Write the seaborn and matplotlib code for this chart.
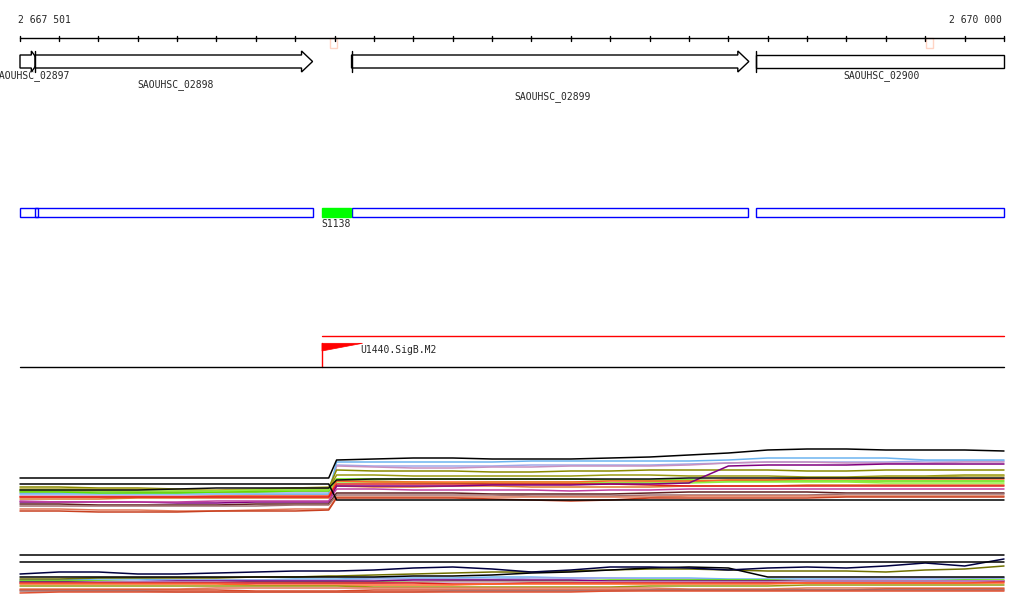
import pandas as pd
import matplotlib
matplotlib.use('Agg')
import matplotlib.pyplot as plt
import matplotlib.patches as mpatches
import seaborn as sns

# --- 1. DONNÉES ---
# fenêtre génomique (bp)
view_start = 2667501
view_end = 2670000
x_lim = (2667450.2, 2670050.8)
tick_pos = [2667501] + list(range(2667600, 2670001, 100))
marker_pos = [2668298, 2669810]

# gènes
gene_names = ['SAOUHSC_02897', 'SAOUHSC_02898', 'SAOUHSC_02899', 'SAOUHSC_02900']
gene_start = [2667501, 2667539, 2668343, 2669370]
gene_end = [2667549, 2668244, 2669352, 2670000]
gene_arrow = [True, True, True, False]
gene_label_row = [76, 85, 97, 76]

# segments (piste bleue)
seg_start = [2667501, 2667539, 2668343, 2669370]
seg_end = [2667547, 2668244, 2669350, 2670000]
hit_name = 'S1138'
hit_start, hit_end = 2668268, 2668342

# promoteur
prom_name = 'U1440.SigB.M2'
prom_start = 2668268

# profils d'expression (log2), positions communes
expr_pos = [2667501, 2667600, 2667700, 2667800, 2667900, 2668000, 2668100, 2668200,
            2668285, 2668305, 2668400, 2668500, 2668600, 2668700, 2668800, 2668900,
            2669000, 2669100, 2669200, 2669300, 2669400, 2669500, 2669600, 2669700,
            2669800, 2669900, 2670000]

panel1 = {
    'lavender': [7.7, 7.7, 7.8, 7.8, 7.8, 7.8, 7.8, 7.8, 7.8, 10.5, 10.4, 10.4, 10.4, 10.4, 10.5, 10.5, 10.5, 10.5, 10.6, 10.7, 10.8, 10.8, 10.8, 10.8, 10.9, 10.9, 10.9],
    'pink': [7.4, 7.4, 7.4, 7.4, 7.4, 7.4, 7.5, 7.5, 7.5, 10.4, 10.3, 10.2, 10.2, 10.3, 10.3, 10.4, 10.4, 10.4, 10.5, 10.7, 10.8, 10.8, 10.7, 10.7, 10.7, 10.8, 10.8],
    'lightblue': [7.6, 7.6, 7.6, 7.6, 7.6, 7.6, 7.6, 7.6, 7.6, 10.8, 10.8, 10.8, 10.8, 10.8, 10.9, 10.9, 10.9, 10.9, 10.9, 11.0, 11.2, 11.2, 11.2, 11.2, 11.0, 11.0, 11.0],
    'olive1': [8.3, 8.3, 8.2, 8.2, 8.1, 7.9, 8.0, 8.2, 8.2, 10.0, 9.9, 9.9, 9.9, 9.8, 9.8, 9.9, 9.9, 10.0, 10.0, 10.0, 10.0, 9.9, 9.9, 10.0, 10.0, 10.0, 10.0],
    'olive2': [7.9, 7.9, 7.9, 7.8, 7.8, 7.8, 7.9, 8.0, 8.0, 9.5, 9.5, 9.4, 9.4, 9.4, 9.4, 9.4, 9.5, 9.5, 9.4, 9.4, 9.4, 9.3, 9.3, 9.4, 9.4, 9.5, 9.5],
    'khaki': [8.1, 8.1, 8.1, 8.1, 8.0, 8.0, 8.1, 8.2, 8.3, 8.9, 8.9, 8.8, 8.7, 8.6, 8.6, 8.6, 8.7, 8.8, 8.8, 9.0, 9.0, 9.2, 9.2, 9.3, 9.3, 9.4, 9.4],
    'green': [7.8, 7.8, 7.7, 7.7, 7.7, 7.8, 7.8, 7.9, 7.9, 9.1, 9.1, 9.1, 9.1, 9.1, 9.1, 9.1, 9.0, 9.0, 9.0, 8.9, 8.9, 8.9, 8.9, 8.9, 8.9, 8.9, 8.9],
    'green2': [8.0, 8.0, 7.9, 7.9, 7.9, 7.9, 8.0, 8.0, 8.0, 8.8, 8.8, 8.7, 8.7, 8.8, 8.8, 8.8, 8.7, 8.7, 8.7, 8.8, 8.8, 8.8, 8.8, 8.7, 8.7, 8.7, 8.7],
    'orange': [7.3, 7.3, 7.3, 7.3, 7.3, 7.4, 7.4, 7.4, 7.4, 8.9, 8.8, 8.8, 8.8, 8.8, 8.8, 8.8, 8.9, 8.9, 8.9, 9.0, 9.0, 9.1, 9.1, 9.1, 9.1, 9.1, 9.1],
    'orange2': [7.1, 7.1, 7.1, 7.2, 7.2, 7.2, 7.2, 7.2, 7.2, 8.4, 8.3, 8.3, 8.4, 8.4, 8.3, 8.3, 8.3, 8.3, 8.4, 8.4, 8.4, 8.5, 8.5, 8.5, 8.5, 8.5, 8.5],
    'red': [7.3, 7.3, 7.3, 7.3, 7.3, 7.3, 7.3, 7.3, 7.3, 8.6, 8.6, 8.6, 8.6, 8.6, 8.6, 8.6, 8.6, 8.5, 8.4, 8.4, 8.4, 8.4, 8.4, 8.4, 8.4, 8.4, 8.4],
    'purple': [6.8, 6.8, 6.8, 6.8, 6.7, 6.7, 6.8, 6.8, 6.8, 8.4, 8.4, 8.4, 8.4, 8.5, 8.5, 8.5, 8.6, 8.6, 8.7, 10.4, 10.5, 10.5, 10.5, 10.6, 10.6, 10.6, 10.6],
    'magenta': [6.9, 6.8, 6.8, 6.8, 6.8, 6.9, 6.9, 6.9, 6.9, 8.1, 8.1, 8.0, 8.0, 8.0, 8.0, 7.9, 8.0, 8.0, 8.1, 8.1, 8.1, 8.1, 8.1, 8.1, 8.1, 8.1, 8.1],
    'maroon': [6.6, 6.6, 6.5, 6.5, 6.5, 6.5, 6.6, 6.6, 6.6, 7.7, 7.7, 7.7, 7.7, 7.6, 7.6, 7.6, 7.6, 7.7, 7.8, 7.8, 7.8, 7.8, 7.7, 7.7, 7.7, 7.7, 7.7],
    'graybrown': [6.4, 6.4, 6.4, 6.4, 6.4, 6.4, 6.4, 6.5, 6.5, 7.5, 7.5, 7.5, 7.5, 7.5, 7.4, 7.4, 7.4, 7.5, 7.5, 7.5, 7.5, 7.5, 7.6, 7.6, 7.6, 7.6, 7.6],
    'salmon': [6.1, 6.1, 6.0, 6.0, 5.9, 5.9, 6.0, 6.1, 6.1, 7.3, 7.3, 7.3, 7.3, 7.3, 7.3, 7.3, 7.3, 7.3, 7.4, 7.4, 7.4, 7.4, 7.4, 7.4, 7.4, 7.4, 7.4],
    'redbrown': [5.9, 5.9, 5.8, 5.8, 5.8, 5.9, 5.9, 5.9, 6.0, 7.2, 7.2, 7.2, 7.2, 7.1, 7.0, 6.9, 7.0, 7.2, 7.2, 7.2, 7.2, 7.2, 7.3, 7.3, 7.3, 7.3, 7.3],
    'black_mid': [8.0, 8.0, 8.0, 8.0, 8.1, 8.2, 8.2, 8.2, 8.2, 9.0, 9.1, 9.1, 9.1, 9.1, 9.1, 9.1, 9.1, 9.1, 9.2, 9.2, 9.2, 9.2, 9.2, 9.2, 9.2, 9.2, 9.2],
    'black_low': [8.6, 8.6, 8.6, 8.6, 8.6, 8.6, 8.6, 8.6, 8.6, 7.0, 7.0, 7.0, 7.0, 7.0, 7.0, 7.0, 7.0, 7.0, 7.0, 7.0, 7.0, 7.0, 7.0, 7.0, 7.0, 7.0, 7.0],
    'black_top': [9.2, 9.2, 9.2, 9.2, 9.2, 9.2, 9.2, 9.2, 9.2, 11.0, 11.1, 11.2, 11.2, 11.1, 11.1, 11.1, 11.2, 11.3, 11.5, 11.7, 12.0, 12.1, 12.1, 12.0, 12.0, 12.0, 11.9],
}

panel2 = {
    'lightblue': [7.0, 7.0, 7.1, 7.1, 7.0, 7.0, 7.0, 7.1, 7.1, 7.1, 7.2, 7.2, 7.2, 7.3, 7.3, 7.2, 7.2, 7.2, 7.2, 7.1, 7.1, 7.1, 7.1, 7.1, 7.1, 7.1, 7.2],
    'lavender': [6.9, 6.9, 6.9, 6.9, 7.0, 7.0, 7.0, 7.0, 7.0, 7.0, 7.1, 7.1, 7.1, 7.1, 7.2, 7.2, 7.2, 7.1, 7.1, 7.0, 7.0, 7.0, 7.1, 7.1, 7.2, 7.2, 7.2],
    'green': [6.9, 6.9, 6.9, 6.8, 6.8, 6.8, 6.8, 6.8, 6.8, 6.8, 6.8, 6.8, 6.9, 6.9, 6.9, 6.9, 7.0, 7.0, 7.0, 7.0, 7.0, 6.9, 6.9, 6.9, 6.9, 7.0, 7.0],
    'purple': [6.8, 6.8, 6.8, 6.8, 6.9, 6.9, 6.9, 6.9, 6.9, 6.9, 6.9, 7.0, 7.0, 7.0, 7.0, 7.0, 6.9, 6.9, 6.9, 6.9, 6.9, 6.9, 6.9, 6.9, 6.9, 6.9, 6.9],
    'pink': [6.7, 6.7, 6.8, 6.8, 6.8, 6.8, 6.7, 6.7, 6.7, 6.7, 6.7, 6.8, 6.8, 6.8, 6.8, 6.8, 6.8, 6.8, 6.8, 6.8, 6.8, 6.9, 6.9, 6.9, 6.9, 6.9, 6.9],
    'red': [6.7, 6.7, 6.7, 6.7, 6.7, 6.7, 6.7, 6.7, 6.7, 6.7, 6.7, 6.7, 6.6, 6.6, 6.7, 6.7, 6.7, 6.7, 6.7, 6.7, 6.7, 6.7, 6.7, 6.7, 6.7, 6.7, 6.8],
    'orange': [6.6, 6.6, 6.6, 6.6, 6.6, 6.6, 6.5, 6.5, 6.5, 6.5, 6.5, 6.5, 6.5, 6.6, 6.6, 6.6, 6.6, 6.6, 6.6, 6.6, 6.6, 6.7, 6.7, 6.7, 6.7, 6.7, 6.7],
    'olive2': [6.4, 6.4, 6.4, 6.4, 6.4, 6.4, 6.4, 6.4, 6.4, 6.4, 6.3, 6.3, 6.3, 6.3, 6.3, 6.3, 6.3, 6.4, 6.4, 6.4, 6.4, 6.5, 6.5, 6.5, 6.5, 6.5, 6.5],
    'salmon': [6.1, 6.1, 6.1, 6.1, 6.1, 6.2, 6.2, 6.2, 6.2, 6.2, 6.2, 6.2, 6.2, 6.2, 6.2, 6.2, 6.2, 6.2, 6.1, 6.1, 6.1, 6.2, 6.2, 6.2, 6.2, 6.2, 6.2],
    'redorange': [6.0, 6.0, 6.0, 6.0, 6.0, 6.0, 5.9, 5.9, 5.9, 5.9, 6.0, 6.0, 6.0, 6.0, 6.0, 6.0, 6.0, 6.0, 6.0, 6.0, 6.0, 6.0, 6.0, 6.1, 6.1, 6.1, 6.1],
    'graybrown': [5.9, 5.9, 5.9, 5.9, 5.8, 5.8, 5.8, 5.8, 5.8, 5.8, 5.8, 5.8, 5.9, 5.9, 5.9, 5.9, 5.9, 6.0, 6.0, 6.0, 6.0, 6.0, 6.0, 6.0, 6.0, 6.0, 6.0],
    'bottom': [5.7, 5.8, 5.8, 5.8, 5.8, 5.8, 5.8, 5.8, 5.8, 5.8, 5.8, 5.8, 5.8, 5.8, 5.8, 5.8, 5.9, 5.9, 5.9, 5.9, 5.9, 5.9, 5.9, 5.9, 5.9, 5.9, 5.9],
    'olive_dark': [7.1, 7.1, 7.2, 7.2, 7.2, 7.2, 7.3, 7.3, 7.4, 7.4, 7.5, 7.6, 7.7, 7.8, 7.8, 7.9, 8.0, 8.1, 8.1, 8.0, 7.9, 7.9, 7.9, 7.8, 8.0, 8.1, 8.4],
    'black2': [7.3, 7.3, 7.3, 7.3, 7.3, 7.3, 7.3, 7.3, 7.3, 7.3, 7.3, 7.4, 7.4, 7.5, 7.7, 7.8, 8.0, 8.2, 8.3, 8.2, 7.3, 7.3, 7.3, 7.3, 7.3, 7.3, 7.3],
    'navy': [7.6, 7.8, 7.8, 7.6, 7.6, 7.7, 7.8, 7.9, 7.9, 7.9, 8.0, 8.2, 8.3, 8.1, 7.8, 8.0, 8.3, 8.3, 8.2, 8.0, 8.2, 8.3, 8.2, 8.4, 8.7, 8.4, 9.1],
    'black_b': [8.8] * 27,
    'black_a': [9.47] * 27,
}

palette = {
    'lavender': '#a0a8e8', 'pink': '#c890c0', 'lightblue': '#6cb4f0',
    'olive1': '#8a8a00', 'olive2': '#9a9a10', 'khaki': '#b0a830', 'olive_dark': '#707000',
    'green': '#60e000', 'green2': '#90f040', 'orange': '#ff6428', 'orange2': '#e07830',
    'red': '#e02020', 'purple': '#800080', 'magenta': '#c040a0', 'maroon': '#602020',
    'graybrown': '#a07070', 'salmon': '#e07858', 'redbrown': '#c84020',
    'redorange': '#d84828', 'bottom': '#e05030',
    'black_mid': '#101010', 'black_low': '#000000', 'black_top': '#000000',
    'black2': '#000000', 'navy': '#000040', 'black_a': '#000000', 'black_b': '#000000',
}


def to_long(panel):
    rows = []
    for name, vals in panel.items():
        for p, v in zip(expr_pos, vals):
            rows.append({'pos': p, 'expr': v, 'probe': name})
    return pd.DataFrame(rows)


# --- 2. FIGURE ---
sns.set_style('white')
plt.rcParams['font.family'] = ['DejaVu Sans Mono', 'DejaVu Sans']
fig = plt.figure(figsize=(10.24, 6.11), dpi=100)

ax = fig.add_axes([0, 0, 1, 1])
ax.set_xlim(*x_lim)
ax.set_ylim(611, 0)
ax.axis('off')

# règle
ax.plot([view_start, view_end], [38.3, 38.3], color='black', lw=1)
for t in tick_pos:
    ax.plot([t, t], [35.8, 40.8], color='black', lw=1)
ax.text(view_start - 5, 20, '2 667 501', ha='left', va='center', fontsize=7)
ax.text(view_end - 5, 20, '2 670 000', ha='right', va='center', fontsize=7)
for m in marker_pos:
    ax.add_patch(mpatches.Rectangle((m - 9, 38), 18, 10, fill=False,
                                    edgecolor='#ffd4c4', lw=1))

# gènes
for name, s, e, arrow, row in zip(gene_names, gene_start, gene_end, gene_arrow, gene_label_row):
    if arrow:
        h = min(28, 0.4 * (e - s))
        pts = [(s, 55), (e - h, 55), (e - h, 51), (e, 61.5), (e - h, 72), (e - h, 68), (s, 68)]
    else:
        pts = [(s, 55), (e, 55), (e, 68), (s, 68)]
    ax.add_patch(mpatches.Polygon(pts, closed=True, facecolor='white',
                                  edgecolor='black', lw=1))
    if s > view_start:
        ax.plot([s, s], [51, 72], color='black', lw=1)
    ax.text((s + e) / 2 + 5, row, name, ha='center', va='center', fontsize=7)

# segments
for s, e in zip(seg_start, seg_end):
    ax.add_patch(mpatches.Rectangle((s, 207.5), e - s, 9.5, fill=False,
                                    edgecolor='#0000ff', lw=1))
ax.add_patch(mpatches.Rectangle((hit_start, 207.5), hit_end - hit_start, 9.5,
                                facecolor='#00ff00', edgecolor='#00ff00', lw=1))
ax.text(hit_start - 2, 224, hit_name, ha='left', va='center', fontsize=7)

# promoteur
ax.plot([prom_start, view_end], [336.2, 336.2], color='#ff0000', lw=1)
ax.add_patch(mpatches.Polygon([(prom_start, 343.3), (prom_start + 103, 343.3),
                               (prom_start, 351)], closed=True,
                              facecolor='#ff0000', edgecolor='#ff0000', lw=0.5))
ax.plot([prom_start, prom_start], [343.3, 366.7], color='#ff0000', lw=1)
ax.text(prom_start + 98, 350, prom_name, ha='left', va='center', fontsize=7)
ax.plot([view_start, view_end], [366.7, 366.7], color='black', lw=1)

# profils d'expression
for panel, rect, ylim in [(panel1, [0, 91 / 611, 1, 80 / 611], (5, 13)),
                          (panel2, [0, 11 / 611, 1, 55 / 611], (5, 10.5))]:
    pax = fig.add_axes(rect)
    pax.patch.set_alpha(0)
    df = to_long(panel)
    sns.lineplot(data=df, x='pos', y='expr', hue='probe', hue_order=list(panel.keys()),
                 palette=palette, estimator=None, sort=False, legend=False,
                 lw=1.1, ax=pax)
    pax.set_xlim(*x_lim)
    pax.set_ylim(*ylim)
    pax.axis('off')

fig.savefig('out.png', dpi=100)
